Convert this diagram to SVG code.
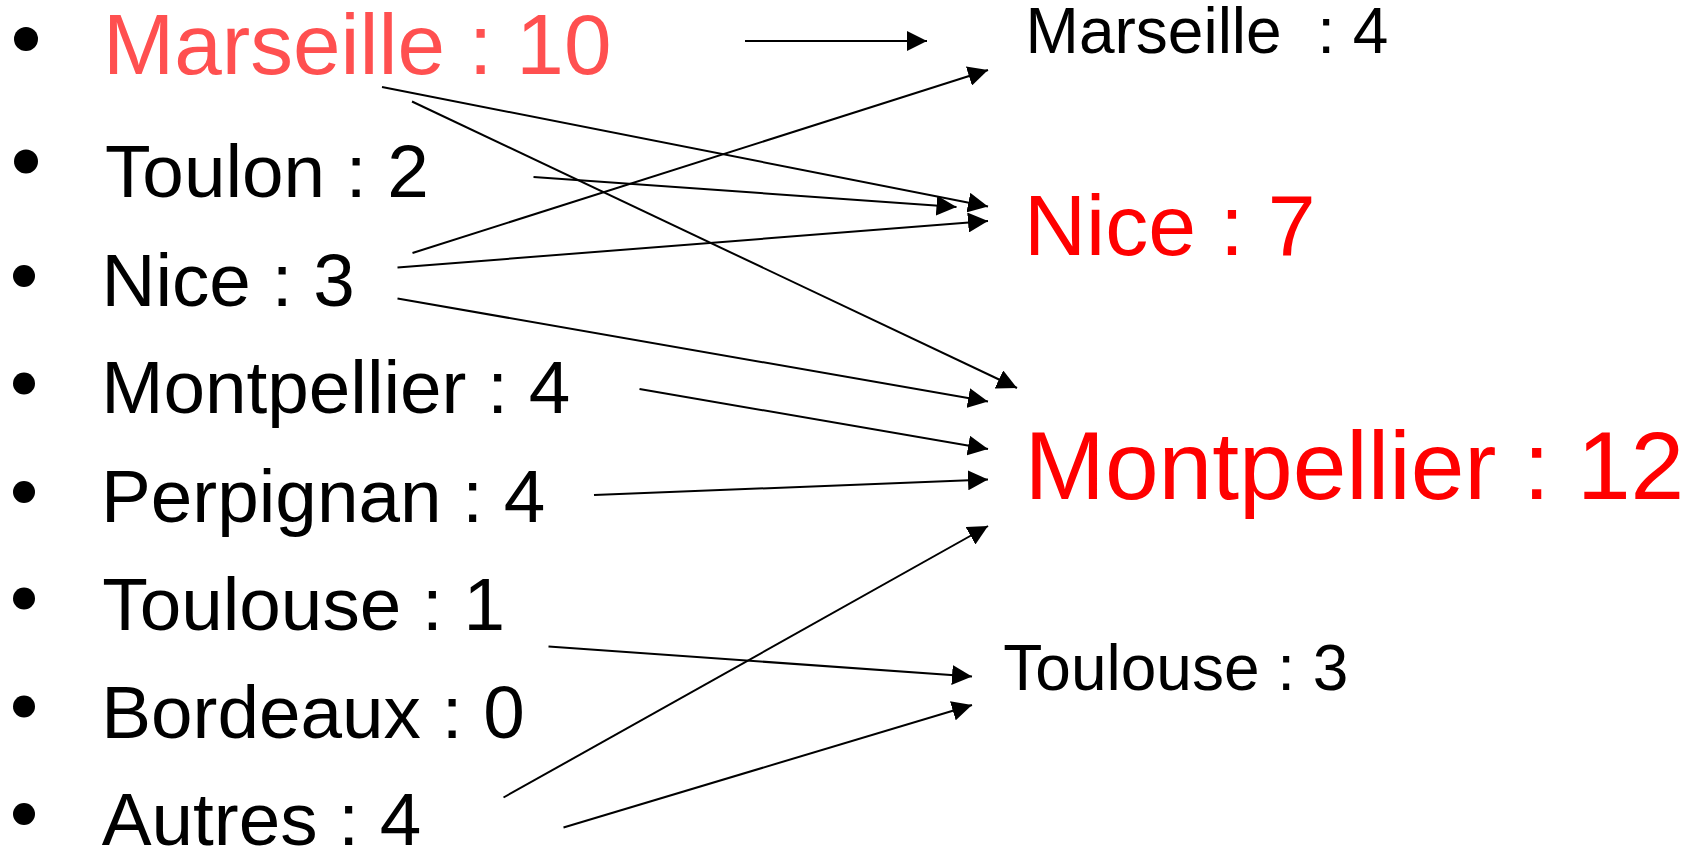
<svg xmlns="http://www.w3.org/2000/svg" width="1700" height="849" viewBox="0 0 1700 849">
  <style>
    text { font-family: "Liberation Sans", Arial, sans-serif; }
    .src { font-size: 74.7px; fill: #000; }
    .dst { font-size: 64px; fill: #000; white-space: pre; }
    .hot { fill: #FF0000; }
    .dot { fill: #000; }
    .link { stroke: #000; stroke-width: 2; fill: none; marker-end: url(#arrow); }
  </style>
  <defs>
    <marker id="arrow" markerUnits="userSpaceOnUse" markerWidth="20" markerHeight="20" refX="20" refY="10" orient="auto">
      <path d="M0,0 L20,10 L0,20 z" fill="#000"/>
    </marker>
  </defs>
  <rect width="1700" height="849" fill="#fff"/>

  <!-- origin list -->
  <g id="src-marseille">
    <circle class="dot" cx="26" cy="39" r="12"/>
    <text x="103" y="74" style="font-size:85.5px" fill="#FF5050">Marseille : 10</text>
  </g>
  <g id="src-toulon">
    <circle class="dot" cx="26" cy="161.5" r="12"/>
    <text class="src" x="105" y="197">Toulon : 2</text>
  </g>
  <g id="src-nice">
    <circle class="dot" cx="24" cy="276" r="11"/>
    <text class="src" x="101.5" y="306">Nice : 3</text>
  </g>
  <g id="src-montpellier">
    <circle class="dot" cx="24" cy="383.5" r="11"/>
    <text class="src" x="101.2" y="413">Montpellier : 4</text>
  </g>
  <g id="src-perpignan">
    <circle class="dot" cx="24" cy="492" r="11"/>
    <text class="src" x="101" y="522">Perpignan : 4</text>
  </g>
  <g id="src-toulouse">
    <circle class="dot" cx="24" cy="598.5" r="11"/>
    <text class="src" x="102.3" y="630">Toulouse : 1</text>
  </g>
  <g id="src-bordeaux">
    <circle class="dot" cx="24" cy="706.5" r="11"/>
    <text class="src" x="101.2" y="737.5">Bordeaux : 0</text>
  </g>
  <g id="src-autres">
    <circle class="dot" cx="24" cy="814" r="11"/>
    <text class="src" x="101.7" y="845">Autres : 4</text>
  </g>

  <!-- destination list -->
  <g id="dst-marseille">
    <text class="dst" x="1025.6" y="52.5">Marseille  : 4</text>
  </g>
  <g id="dst-nice">
    <text x="1024" y="255" style="font-size:86px" class="hot">Nice : 7</text>
  </g>
  <g id="dst-montpellier">
    <text x="1024.5" y="498.5" style="font-size:96.5px" class="hot">Montpellier : 12</text>
  </g>
  <g id="dst-toulouse">
    <text class="dst" x="1003.3" y="689.5">Toulouse : 3</text>
  </g>

  <!-- flows -->
  <g id="connectors">
    <line class="link" x1="745" y1="41" x2="927" y2="41"/>
    <line class="link" x1="382" y1="87" x2="988" y2="206.5"/>
    <line class="link" x1="412" y1="101.5" x2="1017" y2="388"/>
    <line class="link" x1="533.5" y1="177" x2="956.5" y2="207"/>
    <line class="link" x1="412.5" y1="253" x2="988" y2="70"/>
    <line class="link" x1="397.5" y1="267.5" x2="988" y2="221"/>
    <line class="link" x1="397.5" y1="298.5" x2="988" y2="401.5"/>
    <line class="link" x1="639.5" y1="389" x2="988" y2="449"/>
    <line class="link" x1="594" y1="495" x2="988" y2="479.5"/>
    <line class="link" x1="548.5" y1="646.5" x2="972" y2="676.5"/>
    <line class="link" x1="503.5" y1="797.5" x2="988" y2="526"/>
    <line class="link" x1="563.5" y1="827.5" x2="972" y2="705"/>
  </g>
</svg>
